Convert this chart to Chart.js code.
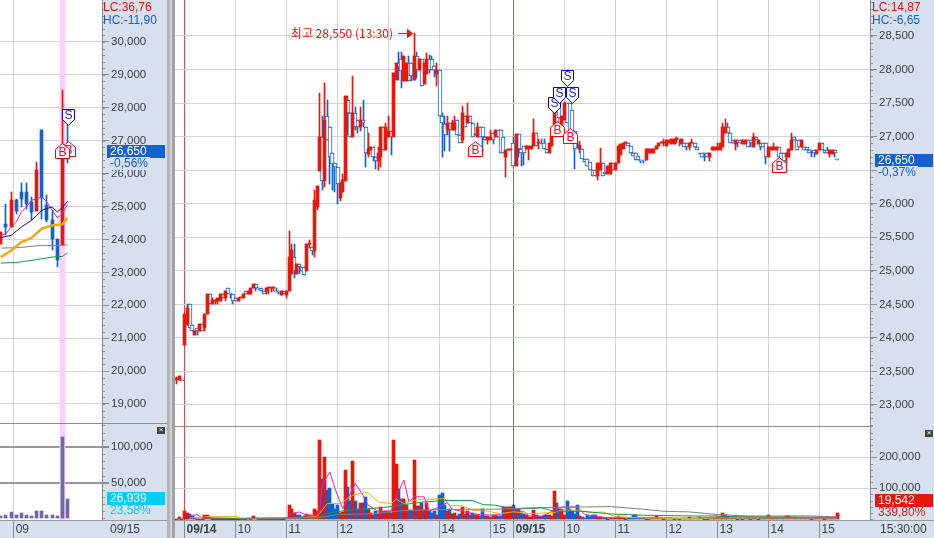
<!DOCTYPE html>
<html>
<head>
<meta charset="utf-8">
<script src="https://cdn.jsdelivr.net/npm/chart.js@4/dist/chart.umd.min.js"></script>
<style>
  html, body { margin: 0; padding: 0; width: 934px; height: 538px; overflow: hidden; background: #d6e0ee; }
  canvas { position: absolute; display: block; }
  .lab { position: absolute; font: 12px "Liberation Sans", sans-serif; white-space: nowrap; line-height: 13px; }
  .pct { background: #d6e0ee; min-width: 40px; }
  .bar { position: absolute; }
  .badge { position: absolute; height: 13px; width: 58px; color: #fff; font: 12px/13px "Liberation Sans", sans-serif; padding-left: 3px; box-sizing: border-box; }
  .close { position: absolute; width: 8px; height: 7px; background: #444; color: #fff; font: 8px/6px "Liberation Sans", sans-serif; text-align: center; }
</style>
</head>
<body>

<div class="bar" style="left:167px;top:0;width:3px;height:538px;background:#b4b4b4"></div>
<div class="bar" style="left:170px;top:0;width:2px;height:538px;background:#d2d2d2"></div>
<div class="bar" style="left:172px;top:0;width:3px;height:538px;background:#a2a2a2"></div>

<canvas id="leftPrice" width="167" height="423" style="left:0;top:0"></canvas>
<canvas id="leftVolume" width="167" height="115" style="left:0;top:423px"></canvas>
<canvas id="mainPrice" width="759" height="426" style="left:175px;top:0"></canvas>
<canvas id="mainVolume" width="759" height="112" style="left:175px;top:426px"></canvas>

<div class="bar" style="left:0;top:423px;width:167px;height:1px;background:#8c8c8c"></div>
<div class="bar" style="left:175px;top:426px;width:695px;height:1px;background:#8c8c8c"></div>
<div class="bar" style="left:0;top:520px;width:167px;height:1px;background:#9a9a9a"></div>
<div class="bar" style="left:175px;top:520px;width:759px;height:1px;background:#9a9a9a"></div>

<div class="lab" style="left:103px;top:1px;color:#e8170c">LC:36,76</div>
<div class="lab" style="left:103px;top:14px;color:#1560d0">HC:-11,90</div>
<div class="badge" style="left:107px;top:145px;background:#1560d0">26,650</div>
<div class="lab pct" style="left:110px;top:157px;color:#1560d0">-0,56%</div>
<div class="close" style="left:157px;top:427px">×</div>
<div class="badge" style="left:107px;top:492px;background:#00ccff">26,939</div>
<div class="lab" style="left:110px;top:504px;color:#00ccff">23,58%</div>
<div class="lab" style="left:110px;top:523px;color:#3c4048">09/15</div>

<div class="lab" style="left:872px;top:1px;color:#e8170c">LC:14,87</div>
<div class="lab" style="left:872px;top:14px;color:#1560d0">HC:-6,65</div>
<div class="badge" style="left:875px;top:154px;background:#1560d0">26,650</div>
<div class="lab pct" style="left:878px;top:166px;color:#1560d0">-0,37%</div>
<div class="close" style="left:925px;top:430px">×</div>
<div class="badge" style="left:875px;top:494px;background:#e8170c">19,542</div>
<div class="lab" style="left:878px;top:506px;color:#e8170c">339,80%</div>
<div class="lab" style="left:880px;top:523px;color:#3c4048">15:30:00</div>

<script>
const UP = "#e8170c"
const DOWN = "#1560d0"
const GRID = "#d4d4d4"
const TEXT = "#3c4048"
const FONT = '"Liberation Sans", sans-serif'

// Left Pane Data (daily candles)

const leftOpen = [23870, 24480, 24380, 25190, 25440, 25440, 25140, 24860, 27340, 25040, 24580, 24020, 23840, 26800]
const leftClose = [24220, 24380, 25190, 24860, 25220, 25090, 24830, 26100, 25260, 24580, 24000, 23380, 26500, 26650]
const leftHigh = [24220, 25070, 25440, 25240, 25720, 25720, 25290, 26340, 27340, 25340, 24880, 24020, 28540, 27470]
const leftLow = [23870, 24120, 24380, 24780, 25000, 24940, 24580, 24860, 24630, 24530, 23670, 23160, 23820, 26325]
const leftVolumes = [3260, 4650, 8840, 4650, 6980, 4650, 3260, 10230, 10230, 4650, 4650, 3260, 113950, 26939]
const leftHighlight = 12
const leftMaOrange = [23463, 23560, 23666, 23790, 23920, 23980, 24050, 24190, 24326, 24380, 24427, 24448, 24458, 24661]
const leftMaNavy = [24052, 24090, 24123, 24250, 24377, 24480, 24580, 24730, 24885, 24940, 24986, 24834, 24966, 25158]
const leftMaPink = [24123, 24174, 24377, 24529, 24834, 24986, 25189, 25240, 25290, 25138, 24885, 24661, 24783, 25067]
const leftMaGrey = [23737, 23740, 23745, 23748, 23760, 23775, 23788, 23805, 23819, 23819, 23819, 23819, 23819, 23839]
const leftMaGreen = [23281, 23288, 23295, 23301, 23320, 23340, 23362, 23390, 23413, 23440, 23463, 23475, 23484, 23595]
const leftTickIdx = [2.5]
const leftTickLabels = ["09"]
const leftPriceTicks = [19000, 20000, 21000, 22000, 23000, 24000, 25000, 26000, 27000, 28000, 29000, 30000]
const leftVolumeTicks = [50000, 100000]

// Main Pane Data (3 minute candles, first row is the previous session)

const mainOpen = [
  23370, 23370, 23370,
  23900, 24190, 24510, 24190, 24040, 24150, 24100, 24200, 24150, 24360,
  24660, 24510, 24550, 24550, 24550, 24660, 24600, 24740, 24660, 24660,
  24600, 24550, 24600, 24600, 24700, 24660, 24660, 24750, 24800, 24740,
  24740, 24700, 24700, 24740, 24740, 24740, 24700, 24700, 24640, 24700,
  24640, 24700, 24950, 25200, 24950, 25100, 25050, 25050, 25000, 25400,
  25350, 25300, 25950, 26490, 27000, 26340, 27300, 27150, 26750, 26600,
  26550, 26090, 26170, 26340, 27550, 27350, 27000, 27350, 27250, 27150,
  27250, 27150, 26740, 26800, 26850, 26700, 26640, 26700, 27150, 26800,
  27000, 27090, 27000, 27840, 28090, 28150, 27830, 27830, 28090, 28090,
  27840, 28200, 28000, 28150, 27790, 27940, 28150, 28150, 28050, 27930,
  28000, 27300, 27190, 27100, 27200, 27100, 27100, 27250, 27030, 26950,
  27300, 27200, 27300, 27200, 27030, 27000, 27150, 27150, 27000, 26950,
  26950, 27050, 27000, 27100, 27100, 27000, 26700, 26800, 26800, 26900,
  26560, 27040, 26820, 26860, 26820, 26820, 26820, 26860, 27050, 26900,
  26900, 26900, 26820, 26750, 26860, 27010, 27360, 27530, 27120, 27250,
  27500, 27500, 27400, 27090, 26820, 26820, 26820, 26670, 26670, 26620,
  26500, 26500, 26410, 26500, 26610, 26470, 26450, 26450, 26610, 26500,
  26610, 26720, 26820, 26910, 26910, 26860, 26750, 26750, 26710, 26650,
  26650, 26650, 26750, 26750, 26750, 26820, 26860, 26910, 26910, 26860,
  26910, 26890, 26890, 26960, 26960, 26890, 26900, 26900, 26840, 26900,
  26900, 26850, 26750, 26750, 26750, 26750, 26700, 26800, 26800, 26800,
  26800, 26850, 27050, 27150, 27050, 26950, 26890, 26950, 26950, 26890,
  26890, 26950, 26950, 26850, 27000, 26890, 26900, 26900, 26900, 26700,
  26800, 26800, 26800, 26850, 26750, 26750, 26700, 26700, 26800, 27000,
  26950, 26950, 26850, 26850, 26850, 26800, 26800, 26800, 26740, 26800,
  26900, 26800, 26800, 26740, 26740, 26800, 26660,
]
const mainClose = [
  23400, 23430, 23360,
  24350, 24450, 24150, 24100, 24100, 24100, 24200, 24100, 24360, 24660,
  24510, 24560, 24560, 24600, 24660, 24600, 24700, 24660, 24650, 24550,
  24550, 24600, 24610, 24660, 24660, 24700, 24750, 24800, 24740, 24730,
  24700, 24660, 24740, 24750, 24750, 24750, 24690, 24690, 24700, 24660,
  24700, 25200, 25310, 24990, 25100, 25050, 25000, 24940, 25400, 25410,
  25300, 26050, 26260, 27000, 26340, 27250, 26950, 26700, 26590, 26550,
  26290, 26310, 26350, 27610, 27350, 27000, 27350, 27150, 27150, 27250,
  27200, 26750, 26820, 26850, 26700, 26640, 26750, 27150, 26800, 27150,
  27090, 27000, 27950, 28090, 28040, 27980, 28200, 28090, 27830, 27900,
  28200, 28000, 28150, 27750, 28090, 28150, 28000, 28000, 28000, 27990,
  27300, 27200, 27030, 27200, 27100, 27200, 27200, 27030, 26900, 27350,
  27150, 27300, 27200, 27000, 27040, 27150, 27000, 27000, 26950, 27000,
  27000, 26950, 27100, 27000, 26760, 26750, 26800, 26810, 26810, 26560,
  27040, 26820, 26750, 26750, 26860, 26860, 26860, 27050, 26860, 26910,
  26890, 26820, 26750, 26900, 27010, 27360, 27200, 27270, 27310, 27500,
  27200, 27080, 27080, 26820, 26810, 26880, 26670, 26620, 26560, 26500,
  26410, 26410, 26610, 26610, 26410, 26450, 26560, 26610, 26500, 26610,
  26860, 26890, 26910, 26920, 26860, 26750, 26710, 26650, 26650, 26640,
  26640, 26820, 26820, 26820, 26820, 26860, 26910, 26920, 26920, 26950,
  26950, 26960, 26960, 26970, 26950, 26960, 26850, 26850, 26900, 26910,
  26850, 26800, 26740, 26700, 26740, 26700, 26750, 26850, 26850, 26850,
  26900, 27150, 27150, 27050, 26900, 26900, 26950, 26900, 26900, 26950,
  26950, 26850, 26900, 27000, 26950, 26950, 26850, 26850, 26700, 26850,
  26850, 26850, 26850, 26700, 26640, 26640, 26750, 26810, 26950, 26950,
  26800, 26850, 26950, 26800, 26800, 26750, 26790, 26750, 26800, 26900,
  26800, 26750, 26750, 26800, 26800, 26750, 26650,
]
const mainHigh = [
  23420, 23430, 23370,
  24350, 24500, 24510, 24190, 24100, 24150, 24200, 24200, 24360, 24660,
  24660, 24600, 24560, 24600, 24660, 24660, 24700, 24740, 24660, 24660,
  24600, 24600, 24610, 24660, 24700, 24700, 24750, 24800, 24800, 24740,
  24740, 24700, 24740, 24750, 24750, 24750, 24740, 24700, 24700, 24700,
  24700, 25600, 25400, 25400, 25100, 25100, 25050, 25050, 25400, 25460,
  25350, 26200, 26260, 27650, 27300, 27800, 27550, 27150, 26750, 26600,
  26550, 26310, 26450, 27610, 27610, 27350, 27900, 27440, 27250, 27440,
  27550, 27150, 27050, 26850, 26850, 26700, 26850, 27150, 27150, 27200,
  27300, 27090, 27950, 28090, 28260, 28260, 28200, 28090, 28200, 28090,
  28550, 28260, 28150, 28150, 28090, 28240, 28220, 28200, 28050, 28090,
  28000, 27350, 27300, 27300, 27200, 27250, 27300, 27250, 27030, 27450,
  27300, 27500, 27300, 27200, 27040, 27210, 27150, 27150, 27000, 27000,
  27100, 27050, 27100, 27100, 27100, 27000, 26800, 26810, 26810, 27000,
  27040, 27040, 26820, 26860, 26860, 26860, 26860, 27260, 27050, 26960,
  26960, 26960, 26820, 26900, 27010, 27360, 27500, 27530, 27310, 27510,
  27500, 27500, 27400, 27090, 26910, 26930, 26820, 26670, 26670, 26620,
  26500, 26500, 26610, 26830, 26610, 26470, 26560, 26610, 26610, 26610,
  26860, 26890, 26910, 26920, 26910, 26860, 26750, 26750, 26710, 26650,
  26650, 26820, 26820, 26820, 26820, 26860, 26910, 26920, 26960, 26950,
  26950, 26960, 26960, 27000, 26960, 26960, 26900, 26900, 26900, 26960,
  26900, 26850, 26750, 26750, 26750, 26750, 26750, 26850, 26850, 26900,
  26900, 27200, 27260, 27210, 27050, 26950, 26950, 26950, 26950, 26950,
  26950, 26950, 26950, 27050, 27000, 26950, 26900, 26900, 26900, 26850,
  26850, 26900, 26850, 26850, 26750, 26750, 26750, 26810, 27050, 27000,
  26950, 26950, 26950, 26850, 26850, 26800, 26800, 26800, 26800, 26900,
  26900, 26800, 26850, 26800, 26800, 26800, 26660,
]
const mainLow = [
  23320, 23370, 23360,
  23900, 24190, 24150, 24100, 24040, 24040, 24100, 24100, 24100, 24360,
  24510, 24510, 24510, 24500, 24550, 24600, 24550, 24660, 24590, 24500,
  24550, 24550, 24600, 24600, 24660, 24660, 24660, 24750, 24700, 24730,
  24700, 24650, 24650, 24650, 24680, 24700, 24690, 24650, 24640, 24660,
  24590, 24700, 24950, 24900, 24950, 24950, 25000, 24940, 25000, 25340,
  25240, 25200, 25900, 26490, 26200, 26250, 26950, 26290, 26200, 26170,
  25990, 26040, 26170, 26340, 27030, 27000, 27000, 27100, 27050, 27080,
  27150, 26550, 26690, 26800, 26640, 26510, 26500, 26540, 26800, 26800,
  27000, 26730, 27000, 27840, 27840, 27720, 27830, 27830, 27830, 27830,
  27840, 27880, 28000, 27750, 27790, 27940, 27950, 28000, 27890, 27750,
  27300, 26700, 26790, 27030, 26790, 27100, 27100, 27030, 26900, 26900,
  27150, 27200, 27200, 27000, 27030, 27000, 27000, 26790, 26950, 26890,
  26950, 26890, 27000, 27000, 26760, 26750, 26400, 26800, 26800, 26560,
  26560, 26700, 26560, 26570, 26820, 26650, 26820, 26860, 26860, 26820,
  26890, 26820, 26750, 26750, 26860, 27010, 27200, 27270, 27120, 27250,
  27200, 27080, 27080, 26510, 26810, 26750, 26670, 26620, 26560, 26500,
  26410, 26410, 26350, 26500, 26410, 26450, 26450, 26450, 26500, 26500,
  26610, 26720, 26820, 26910, 26860, 26750, 26710, 26650, 26650, 26600,
  26600, 26650, 26750, 26750, 26750, 26820, 26860, 26910, 26860, 26860,
  26910, 26890, 26890, 26900, 26860, 26890, 26850, 26800, 26800, 26900,
  26850, 26800, 26740, 26700, 26640, 26700, 26640, 26800, 26800, 26800,
  26800, 26850, 27050, 27050, 26900, 26900, 26800, 26850, 26900, 26890,
  26890, 26850, 26850, 26850, 26950, 26890, 26800, 26850, 26590, 26700,
  26800, 26800, 26800, 26700, 26640, 26640, 26610, 26700, 26800, 26950,
  26800, 26850, 26850, 26800, 26800, 26750, 26700, 26700, 26740, 26800,
  26800, 26750, 26750, 26700, 26740, 26700, 26650,
]
const mainVolumes = [
  1000, 6500, 1000,
  26000, 19000, 17000, 10800, 5400, 2000, 2000, 2000, 13000, 13000,
  3000, 2000, 1500, 1000, 1500, 2000, 1500, 1000, 1500, 2000,
  1500, 1500, 2000, 1000, 1000, 3000, 2000, 9700, 3000, 1500,
  1500, 1000, 1000, 1500, 2000, 1000, 1500, 2000, 1500, 2000,
  3000, 45400, 34600, 21600, 13000, 13000, 7600, 10800, 18400, 13000,
  10800, 34600, 26000, 256000, 129700, 201000, 94000, 99500, 50800, 34600,
  45400, 21600, 23800, 159000, 104900, 58400, 188000, 58400, 34600, 54000,
  54000, 71300, 34600, 21600, 15100, 26000, 18400, 38900, 26000, 26000,
  26000, 21600, 256000, 177000, 97300, 67000, 67000, 45400, 29200, 30000,
  191000, 42000, 42000, 54000, 29200, 54000, 26000, 20000, 26000, 15100,
  77800, 84300, 47500, 26000, 34600, 18400, 19500, 10800, 17300, 40000,
  18400, 26000, 15100, 21600, 15100, 15100, 10800, 32400, 10800, 10800,
  6500, 15100, 15100, 10800, 10800, 40000, 40000, 40000, 40000, 45400,
  34600, 34600, 21600, 18400, 13000, 8600, 6500, 29200, 13000, 10800,
  10800, 13000, 15100, 13000, 10800, 90800, 51900, 34600, 34600, 13000,
  58400, 34600, 26000, 18400, 45400, 10800, 6500, 4300, 13000, 8600,
  13000, 15100, 6500, 6500, 4300, 3000, 2000, 3000, 4000, 4300,
  10800, 4000, 3000, 2000, 3000, 3000, 13000, 13000, 4000, 3000,
  3000, 2000, 2000, 3000, 4000, 10800, 4000, 3000, 2000, 3000,
  4000, 3000, 2000, 3000, 2000, 3000, 3000, 3000, 6500, 3000,
  3000, 4000, 6500, 3000, 2000, 2000, 3000, 3000, 4000, 6000,
  8000, 19500, 13000, 10800, 4000, 3000, 3000, 2000, 3000, 2000,
  3000, 3000, 2000, 3000, 3000, 2000, 3000, 3000, 4000, 15100,
  5000, 3000, 3000, 3000, 4000, 3000, 10800, 10800, 4000, 8000,
  4000, 3000, 3000, 4000, 3000, 3000, 2000, 3000, 4000, 3000,
  3000, 2000, 3000, 3000, 3000, 3000, 19542,
]
const lastVolumeIdx = 259
const mainTickIdx = [3, 23, 43, 63, 83, 103, 123, 132, 152, 172, 192, 212, 232, 252]
const mainTickLabels = ["09/14", "10", "11", "12", "13", "14", "15", "09/15", "10", "11", "12", "13", "14", "15"]
const mainPriceTicks = [23000, 23500, 24000, 24500, 25000, 25500, 26000, 26500, 27000, 27500, 28000, 28500]
const mainVolumeTicks = [100000, 200000]

// Volume moving averages, read at the index where each line bends

const maPinkIdx = [5, 8, 10, 43, 45, 48, 51, 55, 56, 57, 60, 62, 65, 67, 70, 73, 75, 79, 84, 86, 89, 91, 93, 97, 99, 103, 106, 108, 114, 119, 125, 132, 136, 138, 143, 148, 151, 157, 160, 164, 171, 180, 201, 214, 259]
const maPinkVal = [10800, 15100, 3200, 3200, 18400, 23800, 13000, 13000, 28100, 110200, 153000, 99500, 34600, 67000, 115500, 77800, 45400, 25900, 25900, 72500, 126500, 56200, 72500, 72500, 25900, 40000, 54000, 32400, 21600, 15100, 13000, 25900, 25900, 10800, 8600, 29200, 40000, 40000, 15100, 8600, 4300, 6500, 2200, 8600, 2200]
const maOrangeIdx = [5, 13, 24, 25, 40, 55, 59, 64, 69, 73, 75, 79, 84, 86, 89, 93, 99, 105, 107, 112, 116, 122, 127, 132, 138, 148, 151, 157, 162, 167, 172, 183, 201, 212, 259]
const maOrangeVal = [4300, 8600, 8600, 2200, 2200, 8600, 50800, 50800, 77800, 85400, 85400, 56200, 50800, 64900, 50800, 61500, 64900, 67000, 45400, 43200, 29200, 25900, 18400, 23800, 18400, 21600, 30300, 29200, 21600, 23800, 8600, 4300, 2200, 4300, 4300]
const maGreenIdx = [10, 24, 37, 55, 60, 68, 81, 89, 97, 99, 105, 116, 120, 125, 132, 143, 148, 159, 170, 183, 201, 212, 214, 259]
const maGreenVal = [5400, 2200, 4300, 4300, 21600, 30300, 37800, 47600, 56200, 57300, 60500, 60500, 47600, 45400, 32400, 36800, 25900, 25900, 17300, 13000, 10800, 10800, 8600, 6500]
const maGreyIdx = [24, 55, 63, 76, 89, 99, 112, 125, 138, 170, 183, 191, 201, 212, 223, 248, 259]
const maGreyVal = [2200, 4300, 15100, 17300, 28100, 30300, 32400, 32400, 36800, 41100, 32400, 25900, 23800, 15100, 10800, 10800, 7600]

// Buy and sell flags: candle index, price at the flag tip, kind

const leftFlagIdx = [13, 13, 12]
const leftFlagPrice = [26995, 27473, 26935]
const leftFlagKind = ["B", "S", "B"]
const mainFlagIdx = [117, 149, 154, 148, 150, 153, 155, 236]
const mainFlagPrice = [26940, 27233, 27134, 27348, 27497, 27750, 27497, 26693]
const mainFlagKind = ["B", "B", "B", "S", "S", "S", "S", "B"]

const highLabel = "최고 28,550 (13:30)"
const highIdx = 93

// Helpers

const range = (n) => Array.from({ length: n }, (_, i) => i)
const fmt = (v) => v.toLocaleString("en-US")

function candleSets(opens, closes, highs, lows, hollow) {
  const keys = range(opens.length)
  const ups = keys.filter((k) => closes[k] >= opens[k])
  const downs = keys.filter((k) => closes[k] < opens[k])
  return [
    {
      data: keys.map((k) => ({ x: k, y: [lows[k], highs[k]] })),
      backgroundColor: keys.map((k) => (closes[k] >= opens[k] ? UP : DOWN)),
      barThickness: 1, grouped: false, order: 5, minBarLength: 1,
    },
    {
      data: downs.map((k) => ({ x: k, y: [opens[k], closes[k]] })),
      backgroundColor: hollow ? "#fff" : DOWN,
      borderColor: DOWN, borderWidth: hollow ? 1 : 0, borderSkipped: false,
      barThickness: hollow ? 4 : 3, grouped: false, order: 4, minBarLength: 1,
    },
    {
      data: ups.map((k) => ({ x: k, y: [opens[k], closes[k]] })),
      backgroundColor: UP,
      barThickness: 3, grouped: false, order: 3, minBarLength: 1,
    },
  ]
}

function lineSet(idx, vals, color, width) {
  return {
    type: "line",
    data: idx.map((x, i) => ({ x, y: vals[i] })),
    borderColor: color, borderWidth: width || 1,
    pointRadius: 0, tension: 0, order: 1,
  }
}

function xAxis(min, max, idx, labels, withLabels) {
  return {
    type: "linear", min, max, offset: false,
    afterBuildTicks: (s) => { s.ticks = idx.map((value) => ({ value })) },
    afterFit: (s) => { s.height = withLabels ? 18 : 0; s.paddingLeft = 0; s.paddingRight = 0 },
    border: { display: false },
    grid: {
      offset: false,
      drawTicks: withLabels,
      tickLength: 18,
      tickColor: "#8c8c8c",
      color: (c) => (labels[c.index] === "09/14" ? "#e04848" : labels[c.index] === "09/15" ? "#b85050" : GRID),
    },
    ticks: {
      display: withLabels, autoSkip: false, maxRotation: 0, align: "start",
      padding: -16, labelOffset: 2, color: TEXT,
      font: (c) => ({ family: FONT, size: 12, weight: labels[c.index] && labels[c.index].includes("/") ? "bold" : "normal" }),
      callback: (v, i) => labels[i],
    },
  }
}

function yAxis(min, max, tickVals, gridColor, gridWidth, axisWidth) {
  return {
    type: "linear", position: "right", min, max,
    afterBuildTicks: (s) => { s.ticks = tickVals.map((value) => ({ value })) },
    afterFit: (s) => { s.width = axisWidth; s.paddingTop = 0; s.paddingBottom = 0 },
    border: { color: "#8c8c8c" },
    grid: { tickLength: 7, tickColor: "#8c8c8c", color: gridColor, lineWidth: gridWidth },
    ticks: {
      padding: 2, color: TEXT,
      font: { family: FONT, size: 11.5 },
      callback: (v) => fmt(v),
    },
  }
}

// Plugins

const panelBg = {
  id: "panelBg",
  beforeDraw(chart) {
    const a = chart.chartArea
    chart.ctx.fillStyle = "#fff"
    chart.ctx.fillRect(a.left, a.top, a.right - a.left, a.bottom - a.top)
  },
}

const snapBars = {
  id: "snapBars",
  afterDatasetsUpdate(chart) {
    chart.getSortedVisibleDatasetMetas().forEach((meta) => {
      if (meta.type !== "bar") return
      meta.data.forEach((el) => {
        // odd widths sit on a half pixel, even widths on a whole one
        el.x = el.width % 2 ? Math.floor(el.x) + 0.5 : Math.round(el.x)
        el.y = Math.round(el.y)
        el.base = Math.round(el.base)
        if (el.y === el.base) el.base = el.y + 1
      })
    })
  },
}

const minorTicks = {
  id: "minorTicks",
  afterDraw(chart, args, opts) {
    const s = chart.scales.y
    const ctx = chart.ctx
    ctx.save()
    ctx.strokeStyle = "#8c8c8c"
    ctx.lineWidth = 1
    for (let v = Math.ceil(s.min / opts.step) * opts.step; v <= s.max; v += opts.step) {
      const y = Math.round(s.getPixelForValue(v)) + 0.5
      ctx.beginPath()
      ctx.moveTo(s.left, y)
      ctx.lineTo(s.left + 3, y)
      ctx.stroke()
    }
    ctx.restore()
  },
}

const flags = {
  id: "flags",
  afterDatasetsDraw(chart, args, opts) {
    if (!opts.idx) return
    const ctx = chart.ctx
    ctx.save()
    ctx.lineWidth = 1
    ctx.textAlign = "center"
    ctx.textBaseline = "middle"
    ctx.font = "12px " + FONT
    opts.idx.forEach((k, n) => {
      const x = Math.round(chart.scales.x.getPixelForValue(k)) + 0.5
      const t = Math.round(chart.scales.y.getPixelForValue(opts.price[n])) + 0.5
      const isBuy = opts.kind[n] === "B"
      const pts = isBuy
        ? [[x, t], [x + 7, t + 6], [x + 7, t + 15], [x - 7, t + 15], [x - 7, t + 6]]
        : [[x, t], [x + 6, t - 6], [x + 6, t - 16], [x - 6, t - 16], [x - 6, t - 6]]
      ctx.beginPath()
      pts.forEach((p, i) => (i ? ctx.lineTo(p[0], p[1]) : ctx.moveTo(p[0], p[1])))
      ctx.closePath()
      ctx.fillStyle = "#fff"
      ctx.fill()
      ctx.strokeStyle = isBuy ? "#f00000" : "#0000d0"
      ctx.stroke()
      ctx.fillStyle = isBuy ? "#f00030" : "#2020e0"
      ctx.fillText(opts.kind[n], x, isBuy ? t + 9 : t - 10)
    })
    ctx.restore()
  },
}

const highNote = {
  id: "highNote",
  afterDatasetsDraw(chart, args, opts) {
    if (!opts.text) return
    const ctx = chart.ctx
    const tip = chart.scales.x.getPixelForValue(opts.idx) - 1
    const y = Math.round(chart.scales.y.getPixelForValue(opts.price)) + 0.5
    ctx.save()
    ctx.fillStyle = UP
    ctx.strokeStyle = UP
    ctx.beginPath()
    ctx.moveTo(tip - 15, y)
    ctx.lineTo(tip - 5, y)
    ctx.stroke()
    ctx.beginPath()
    ctx.moveTo(tip, y)
    ctx.lineTo(tip - 6, y - 5)
    ctx.lineTo(tip - 6, y + 5)
    ctx.closePath()
    ctx.fill()
    ctx.font = '12px "Noto Sans CJK KR", ' + FONT
    ctx.textAlign = "right"
    ctx.textBaseline = "middle"
    ctx.fillText(opts.text, tip - 20, y)
    ctx.restore()
  },
}

function draw(id, datasets, scales, pluginOpts) {
  new Chart(document.getElementById(id), {
    type: "bar",
    data: { datasets },
    options: {
      responsive: false,
      animation: false,
      devicePixelRatio: 1,
      layout: { autoPadding: false, padding: 0 },
      scales,
      plugins: Object.assign({ legend: { display: false }, tooltip: { enabled: false } }, pluginOpts),
    },
    plugins: [panelBg, snapBars, minorTicks, flags, highNote],
  })
}

// Left Price Chart

const leftMin = 18422
const leftMax = 31276
const leftXMin = -0.16
const leftXMax = 19.72
const leftKeys = range(leftOpen.length)

draw("leftPrice", [
  { data: [{ x: leftHighlight, y: [leftMin, leftMax] }], backgroundColor: "#fccffc", barThickness: 5, grouped: false, order: 9 },
  ...candleSets(leftOpen, leftClose, leftHigh, leftLow, false),
  lineSet(leftKeys, leftMaOrange, "#f0a810", 2.5),
  lineSet(leftKeys, leftMaGrey, "#808080"),
  lineSet(leftKeys, leftMaGreen, "#119944"),
  lineSet(leftKeys, leftMaNavy, "#101090"),
  lineSet(leftKeys, leftMaPink, "#e020c0"),
], {
  x: xAxis(leftXMin, leftXMax, leftTickIdx, leftTickLabels, false),
  y: yAxis(leftMin, leftMax, leftPriceTicks, GRID, 1, 65),
}, {
  minorTicks: { step: 200 },
  flags: { idx: leftFlagIdx, price: leftFlagPrice, kind: leftFlagKind },
})

// Left Volume Chart

draw("leftVolume", [
  { data: [{ x: leftHighlight, y: [-2100, 133380] }], backgroundColor: "#fccffc", barThickness: 5, grouped: false, order: 9 },
  {
    data: leftVolumes.map((v, k) => ({ x: k, y: v })),
    backgroundColor: "#6f68a8", barThickness: 3, grouped: false, order: 2,
  },
], {
  x: xAxis(leftXMin, leftXMax, leftTickIdx, leftTickLabels, true),
  y: yAxis(-2100, 133380, leftVolumeTicks, "#999", 2, 65),
}, {
  minorTicks: { step: 10000 },
})

// Main Price Chart

const mainXMin = -0.725
const mainXMax = 271.8

draw("mainPrice", candleSets(mainOpen, mainClose, mainHigh, mainLow, true), {
  x: xAxis(mainXMin, mainXMax, mainTickIdx, mainTickLabels, false),
  y: yAxis(22687, 29036, mainPriceTicks, GRID, 1, 64),
}, {
  minorTicks: { step: 100 },
  flags: { idx: mainFlagIdx, price: mainFlagPrice, kind: mainFlagKind },
  highNote: { text: highLabel, idx: highIdx, price: 28550 },
})

// Main Volume Chart

const mainKeys = range(mainVolumes.length)
const volumeUp = (k) => mainClose[k] >= mainOpen[k] || k === lastVolumeIdx

draw("mainVolume", [
  {
    data: mainKeys.filter((k) => !volumeUp(k)).map((k) => ({ x: k, y: mainVolumes[k] })),
    backgroundColor: DOWN, barThickness: 3, grouped: false, order: 4,
  },
  {
    data: mainKeys.filter(volumeUp).map((k) => ({ x: k, y: mainVolumes[k] })),
    backgroundColor: UP, barThickness: 3, grouped: false, order: 3,
  },
  lineSet(maGreyIdx, maGreyVal, "#808080"),
  lineSet(maGreenIdx, maGreenVal, "#119944"),
  lineSet(maOrangeIdx, maOrangeVal, "#f0b000"),
  lineSet(maPinkIdx, maPinkVal, "#e020c0"),
], {
  x: xAxis(mainXMin, mainXMax, mainTickIdx, mainTickLabels, true),
  y: yAxis(-2260, 300970, mainVolumeTicks, GRID, 1, 64),
}, {
  minorTicks: { step: 20000 },
})
</script>
</body>
</html>
